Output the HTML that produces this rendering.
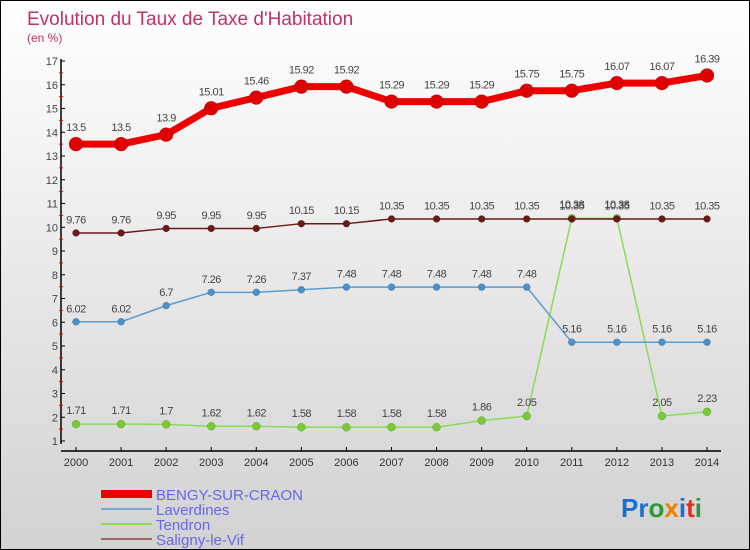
<!DOCTYPE html>
<html><head><meta charset="utf-8"><style>
body{margin:0}
#wrap{width:750px;height:550px;position:relative;overflow:hidden;box-sizing:border-box;border:1px solid #000;background:linear-gradient(#fff,#d2d2d2);font-family:"Liberation Sans",sans-serif}
svg text{font-family:"Liberation Sans",sans-serif}
</style></head><body>
<div id="wrap">
<svg id="c" width="750" height="550">
<text x="26" y="24" font-size="19" fill="#c0306a">Evolution du Taux de Taxe d'Habitation</text>
<text x="26" y="41" font-size="12" fill="#c0306a">(en %)</text>
<g id="g"></g>
<text x="620" y="516" font-size="26" font-weight="bold"><tspan fill="#1a6fd1">Pr</tspan><tspan fill="#2a9a3a">o</tspan><tspan fill="#f07d00">x</tspan><tspan fill="#1a6fd1">i</tspan><tspan fill="#e03020">t</tspan><tspan fill="#2a9a3a">i</tspan></text>
</svg></div>
<script>
const years=[2000,2001,2002,2003,2004,2005,2006,2007,2008,2009,2010,2011,2012,2013,2014];
const bengy=[13.5,13.5,13.9,15.01,15.46,15.92,15.92,15.29,15.29,15.29,15.75,15.75,16.07,16.07,16.39];
const laverdines=[6.02,6.02,6.7,7.26,7.26,7.37,7.48,7.48,7.48,7.48,7.48,5.16,5.16,5.16,5.16];
const tendron=[1.71,1.71,1.7,1.62,1.62,1.58,1.58,1.58,1.58,1.86,2.05,10.38,10.38,2.05,2.23];
const saligny=[9.76,9.76,9.95,9.95,9.95,10.15,10.15,10.35,10.35,10.35,10.35,10.35,10.35,10.35,10.35];
const yTicks=[1,2,3,4,5,6,7,8,9,10,11,12,13,14,15,16,17];
const seriesNames=["BENGY-SUR-CRAON","Laverdines","Tendron","Saligny-le-Vif"];
const NS="http://www.w3.org/2000/svg";
const g=document.getElementById('g');
const X=i=>75+i*(706-75)/(years.length-1);
const Y=v=>440-(v-1)*(380/16);
function mk(t,a,p){const e=document.createElementNS(NS,t);for(const k in a)e.setAttribute(k,a[k]);(p||g).appendChild(e);return e;}
// axes
let e=mk('line',{x1:60,y1:58,x2:60,y2:443,stroke:'#000','stroke-width':1.5});


e=mk('line',{x1:60,y1:450,x2:720,y2:450,stroke:'#000','stroke-width':1.5});


yTicks.forEach(v=>{
 mk('line',{x1:60,y1:Y(v),x2:64,y2:Y(v),stroke:'#000'});
 if(v<17)mk('line',{x1:58,y1:Y(v+0.5),x2:62,y2:Y(v+0.5),stroke:'#e00'});
 const t=mk('text',{x:57,y:Y(v)+4,'font-size':11,fill:'#444','text-anchor':'end'});t.textContent=v;
 
 
});
years.forEach((yr,i)=>{
 mk('line',{x1:X(i),y1:446,x2:X(i),y2:450,stroke:'#000'});
 const t=mk('text',{x:X(i),y:465,'font-size':11,fill:'#333','text-anchor':'middle'});t.textContent=yr;
 
 
});
function series(vals,color,w,r,dot,name,labels){
 const pts=vals.map((v,i)=>X(i)+','+Y(v)).join(' ');
 const l=mk('polyline',{points:pts,fill:'none',stroke:color,'stroke-width':w,'stroke-linejoin':'round'});
 
 
 vals.forEach((v,i)=>{
  const c=mk('circle',{cx:X(i),cy:Y(v),r:r,fill:dot,stroke:'rgba(0,0,0,0.25)','stroke-width':0.5});
  
  
  if(labels){const t=mk('text',{x:X(i),y:Y(v)-(r+6),'font-size':11,fill:'#444','text-anchor':'middle','letter-spacing':'-0.5'});t.textContent=v;
  
  }
 });
}
series(tendron,'#88dd55',1.5,4,'#77cc33','tendron',true);
series(laverdines,'#5a9ccc',1.5,3.5,'#4a90cc','laverdines',true);
series(saligny,'#6b1a1a',1.5,3.5,'#6b1a1a','saligny',true);
series(bengy,'#ee0000',7,7,'#e00000','bengy',true);
// legend
const lc=['#ee0000','#7aa8cc','#88dd55','#a06a6a'],lw=[8,2,2,2];
seriesNames.forEach((n,i)=>{
 const y=493+i*15;
 mk('line',{x1:100,y1:y,x2:151,y2:y,stroke:lc[i],'stroke-width':lw[i]});
 const t=mk('text',{x:155,y:y+6,'font-size':15,fill:'#6666ee'});t.textContent=n;
 
 
});
</script>
</body></html>
